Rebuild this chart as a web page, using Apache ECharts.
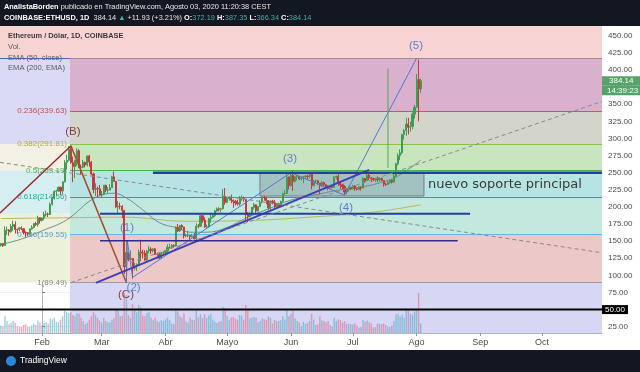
<!DOCTYPE html>
<html>
<head>
<meta charset="utf-8">
<script src="https://cdn.jsdelivr.net/npm/echarts@6/dist/echarts.min.js"></script>
<style>
  html, body { margin: 0; padding: 0; background: #fff; }
  #chart { width: 640px; height: 372px; }
</style>
</head>
<body>
<div id="chart"></div>
<script>
// ---- datos (ETH/USD Coinbase, velas diarias 12 ene - 3 ago 2020) ----
// eje x = dias desde el 1 feb 2020
const firstDay = -20;
const firstOpen = 143.6;
const closes = [
  146.5,143.6,165.9,166.3,163.8,171.4,174.2,167.0,166.9,169.4,168.0,162.6,162.2,160.4,167.9,170.1,175.6,174.3,184.0,180.0,
  183.6,188.8,189.6,188.9,204.0,212.3,222.7,223.1,228.7,223.1,236.5,265.0,268.0,284.2,264.7,258.9,267.8,282.0,258.5,258.0,265.0,261.3,274.5,265.5,248.2,225.5,227.0,226.3,217.5,
  218.6,231.5,224.3,224.6,228.0,244.0,237.2,200.0,201.0,200.8,194.9,112.3,133.2,123.3,124.6,110.6,113.9,115.7,134.0,132.6,132.5,122.7,135.5,138.5,136.0,138.8,130.8,131.3,125.0,132.5,133.4,
  135.5,141.1,141.3,143.9,142.7,170.3,164.8,173.0,170.5,157.5,158.1,158.4,156.8,157.6,153.3,171.7,171.6,187.1,180.5,170.9,170.9,182.7,184.7,187.5,194.1,197.3,196.4,197.2,215.5,206.5,
  212.5,213.2,209.8,208.2,206.0,204.4,212.1,212.4,211.3,188.8,186.0,190.2,199.4,203.0,194.1,200.4,207.0,214.5,213.8,209.3,198.6,208.4,206.2,200.3,204.4,200.8,208.0,219.6,219.7,243.8,231.0,
  246.2,237.2,244.0,244.4,241.2,241.9,244.1,245.0,244.3,247.3,231.2,237.8,238.1,234.9,230.8,235.7,232.2,229.6,227.5,229.8,228.5,243.4,244.6,235.8,232.4,229.8,221.7,225.4,228.5,226.2,
  230.6,226.5,225.5,229.0,227.5,241.5,238.3,246.3,242.4,241.8,239.4,241.6,239.5,241.7,238.6,233.2,232.7,235.6,238.8,236.2,245.0,262.9,275.0,279.1,305.4,311.3,321.0,316.4,317.6,335.4,345.5,
  386.0,372.19,384.14
];
const highs = [
  146.9,146.6,171.7,171.2,167.4,174.8,180.0,178.9,168.3,169.9,171.5,168.1,164.3,163.0,168.5,173.1,176.0,178.3,187.1,185.0,
  184.9,192.7,194.4,191.7,206.2,214.9,224.0,225.0,229.5,229.5,237.4,268.3,276.0,289.0,289.5,273.5,269.0,285.5,284.3,262.0,268.6,266.2,275.0,276.0,266.8,250.0,234.5,229.5,232.0,
  223.4,232.1,232.6,229.0,233.2,245.5,251.7,237.9,208.5,206.2,202.5,195.7,150.0,133.9,136.5,124.4,118.1,117.4,137.9,152.0,137.3,136.6,136.4,143.1,141.2,139.6,140.0,132.3,132.7,134.0,135.2,
  137.0,145.4,146.0,145.5,145.0,171.6,175.0,173.6,174.4,171.1,160.6,165.0,159.1,160.5,161.7,176.0,175.0,187.7,187.3,184.6,174.2,184.0,190.0,189.6,195.5,199.0,199.2,198.5,226.0,227.5,
  215.0,215.6,218.0,210.8,210.0,210.5,215.9,216.9,215.0,211.4,192.2,192.4,200.0,206.0,203.5,201.3,210.3,215.2,216.0,214.5,210.0,209.6,210.3,210.0,205.7,206.1,209.2,221.0,224.2,247.6,244.0,
  250.0,253.0,245.2,246.7,245.0,244.0,244.9,246.6,247.0,250.5,249.5,239.5,239.8,239.0,232.0,238.0,236.9,233.5,231.5,231.0,231.5,245.0,245.7,247.5,237.0,234.0,231.5,227.0,230.0,229.3,
  232.3,231.5,228.0,230.5,229.2,243.4,242.0,247.9,248.3,243.4,242.3,242.5,244.5,242.5,242.6,238.8,235.0,238.4,240.0,239.7,248.2,264.0,278.0,284.0,307.0,314.0,330.0,330.0,324.2,338.0,349.0,
  394.0,415.0,387.35
];
const lows = [
  142.2,141.4,143.2,159.0,157.8,162.4,165.3,161.2,160.6,164.3,166.2,159.6,155.6,157.6,158.9,166.6,168.9,172.1,171.1,175.8,
  178.8,180.4,186.0,185.2,188.5,201.9,210.6,215.5,222.0,217.5,218.8,235.8,254.4,266.3,263.0,236.3,242.0,259.5,256.6,246.8,256.5,257.7,258.9,259.0,246.3,220.0,215.8,213.5,216.9,
  212.9,217.0,221.5,220.5,224.2,227.8,236.5,198.5,191.0,196.5,183.5,102.0,89.5,120.6,121.9,95.2,107.3,106.5,114.2,120.7,124.9,120.9,119.8,132.4,131.5,133.4,129.8,124.7,124.2,124.0,130.5,
  128.3,133.8,138.9,139.1,140.4,142.2,163.5,163.6,166.4,153.9,155.6,155.8,149.7,155.1,152.5,150.3,168.8,171.0,177.0,169.4,167.5,170.1,176.8,183.2,185.5,192.8,193.5,192.0,196.5,203.0,
  205.4,209.0,205.3,198.7,202.1,202.0,201.5,209.0,207.5,180.0,177.6,184.5,188.0,196.2,191.4,193.0,199.8,205.0,209.2,204.0,195.0,195.5,203.5,198.5,197.3,198.6,199.0,206.0,216.4,219.4,225.5,
  229.5,223.3,235.7,238.3,239.0,238.6,234.7,240.5,239.5,241.8,225.6,229.7,234.7,232.3,218.3,229.0,230.3,228.0,224.1,225.6,227.0,227.7,240.4,230.5,226.5,225.5,217.3,218.6,222.3,224.4,
  225.4,223.5,224.0,224.3,223.9,227.4,236.2,238.0,239.0,236.1,237.7,236.6,236.4,236.5,237.4,229.7,230.6,232.0,233.7,234.2,235.6,243.8,260.5,268.2,277.0,298.5,304.0,306.0,310.0,313.5,329.0,
  345.0,325.0,366.34
];
const volumes = [
  180,170,420,300,220,260,300,250,170,160,150,200,220,160,150,190,230,200,310,260,
  190,250,260,230,360,340,380,280,270,330,420,560,530,500,520,450,420,500,480,380,300,220,260,330,420,520,460,380,310,
  260,380,300,270,260,330,370,600,560,420,430,1000,950,450,380,720,560,520,700,640,430,420,500,520,380,330,380,300,270,320,300,
  340,380,320,240,220,620,540,420,380,480,280,260,380,330,320,600,390,470,370,470,380,440,480,330,280,250,280,300,650,620,
  430,330,390,400,350,330,450,430,330,700,560,370,380,400,380,260,300,360,340,330,420,380,240,320,300,300,320,420,340,560,420,
  480,560,360,300,260,170,280,230,250,300,480,330,200,220,420,320,300,260,300,200,170,380,300,340,320,260,300,230,230,220,
  220,240,180,130,150,330,280,310,270,240,140,150,240,230,220,240,200,160,150,190,300,460,480,410,460,380,620,600,480,460,540,
  560,1000,240
];

// EMA
const ema50Days = [-20,-10,0,12,25,35,41,48,57,66,72,80,90,100,110,121,135,145,157,164,171,179,184];
const ema50Vals = [145,153,165,181,212,220,213,198,177,169,163,163,170,185,197,210,219,225,230,235,242,257,268];
const ema200Days = [-20,10,40,70,100,130,160,184];
const ema200Vals = [183,184,185,179,180,185,192,203];

// eje de tiempo / precio
const monthDays = [0,29,60,90,121,151,182,213,243];
const monthNames = ['Feb','Mar','Abr','Mayo','Jun','Jul','Ago','Sep','Oct'];
const priceTicks = [25,50,75,100,125,150,175,200,225,250,275,300,325,350,375,400,425,450];

// retroceso de Fibonacci
const fibRatios = ['0','0.236','0.382','0.5','0.618','0.786','1'];
const fibPrices = [416.89,339.63,291.81,253.19,214.56,159.55,89.49];
const fibLineColors = ['#9a8a96','#d9534f','#8bc34a','#4caf50','#26a69a','#64b5f6','#9e9e9e'];
const fibLabelColors = ['#888','#c0504d','#b3ad3c','#4caf50','#26a69a','#5a9bd4','#8a8a8a'];

const X_MIN = -20.41, X_MAX = 272.1;
const Y_MIN = 15.8, Y_MAX = 464.2;
const FIB_X = 13.6;
const FONT = '"Liberation Sans", Arial, sans-serif';
const UP = '#3f9d52', DOWN = '#d0343c';

const candles = closes.map((c, i) => [firstDay + i, i === 0 ? firstOpen : closes[i - 1], c, lows[i], highs[i]]);
const vols = volumes.map((v, i) => ({
  value: [firstDay + i, v],
  itemStyle: { color: candles[i][2] >= candles[i][1] ? 'rgba(70,170,195,0.55)' : 'rgba(235,85,115,0.5)' }
}));

// bandas de fondo
function band(x1, x2, p1, p2, color) {
  return [{ coord: [x1, p1], itemStyle: { color: color } }, { coord: [x2, p2] }];
}
const bands = [
  band(X_MIN, X_MAX, fibPrices[0], Y_MAX, '#f7d3d3'),
  band(FIB_X, X_MAX, fibPrices[1], fibPrices[0], '#d9b1cf'),
  band(FIB_X, X_MAX, fibPrices[2], fibPrices[1], '#d3d4ca'),
  band(FIB_X, X_MAX, fibPrices[3], fibPrices[2], '#c9e5bd'),
  band(FIB_X, X_MAX, fibPrices[4], fibPrices[3], '#b6e4e4'),
  band(FIB_X, X_MAX, fibPrices[5], fibPrices[4], '#c3e8de'),
  band(FIB_X, X_MAX, fibPrices[6], fibPrices[5], '#ecc9c8'),
  band(FIB_X, X_MAX, Y_MIN, fibPrices[6], '#d6d6f5'),
  // zona izquierda (otro retroceso)
  band(X_MIN, FIB_X, fibPrices[2], fibPrices[0], '#dadaf6'),
  band(X_MIN, FIB_X, fibPrices[3], fibPrices[2], '#f3f1e5'),
  band(X_MIN, FIB_X, 190, fibPrices[3], '#d5eef2'),
  band(X_MIN, FIB_X, fibPrices[6], 190, '#ecf2da')
];

const fibLines = fibPrices.map((p, i) => [
  {
    coord: [FIB_X, p],
    lineStyle: { color: fibLineColors[i], width: 1, type: 'solid' },
    label: {
      show: i > 0, position: 'start', distance: 3,
      formatter: fibRatios[i] + '(' + p.toFixed(2) + ')',
      color: fibLabelColors[i], fontSize: 8, fontFamily: FONT
    }
  },
  { coord: [X_MAX, p] }
]);
fibLines.push([{ coord: [X_MIN, fibPrices[0]], lineStyle: { color: '#4a63c8', width: 1, type: 'solid' }, label: { show: false } }, { coord: [FIB_X, fibPrices[0]] }]);

// dibujos (lineas de tendencia, ondas)
function draw(points, color, width, dashed) {
  return {
    type: 'line', xAxisIndex: 0, yAxisIndex: 0, data: points, symbol: 'none', silent: true, z: 6,
    lineStyle: { color: color, width: width, type: dashed ? [4, 3] : 'solid' }
  };
}
const drawings = [
  draw([[X_MIN, 191], [14, 289]], '#9c2a2a', 1.5),
  draw([[14, 289.5], [41, 89.5]], '#9a5032', 1.5),
  draw([[41, 89.5], [41.5, 150], [44, 97], [121, 250], [147, 217], [182, 417]], '#4f78d6', 1),
  draw([[26.2, 89], [159, 254]], '#3f3fb8', 2),
  draw([[53.9, 250], [X_MAX, 250]], '#24409a', 2.5),
  draw([[28.2, 190], [208, 190]], '#24409a', 2),
  draw([[28.2, 150.5], [202, 150.5]], '#2c2c90', 1.5),
  draw([[X_MIN, 265], [X_MAX, 133]], '#8a8a8a', 1, true),
  draw([[FIB_X + 0.5, 89.49], [X_MAX, 354]], '#8a8a8a', 1, true),
  draw([[168.1, 402], [168.1, 257]], '#4caf50', 1),
  draw([[X_MIN, 50], [X_MAX, 50]], '#000000', 2)
];

const waveLabels = [
  ['(B)', 15, 309, '#8e3b3b'],
  ['(C)', 40.8, 71, '#8e3b3b'],
  ['(1)', 41.3, 169, '#5d7fd1'],
  ['(2)', 44.5, 82, '#5d7fd1'],
  ['(3)', 120.5, 270, '#5d7fd1'],
  ['(4)', 147.7, 198, '#5d7fd1'],
  ['(5)', 181.7, 435, '#5d7fd1']
];

const chart = echarts.init(document.getElementById('chart'));

chart.setOption({
  animation: false,
  backgroundColor: '#ffffff',
  grid: [
    { left: 0, right: 38, top: 26, bottom: 39 },
    { left: 0, right: 38, top: 290, bottom: 39 }
  ],
  xAxis: [
    {
      type: 'value', gridIndex: 0, min: X_MIN, max: X_MAX,
      axisLine: { show: false }, axisLabel: { show: false },
      axisTick: { show: false, customValues: monthDays },
      splitLine: { show: true, lineStyle: { color: 'rgba(42,46,57,0.07)' } }
    },
    {
      type: 'value', gridIndex: 1, min: X_MIN, max: X_MAX,
      axisLine: { show: true, lineStyle: { color: '#b2b5be' } },
      axisTick: { show: true, customValues: monthDays, length: 3, lineStyle: { color: '#9598a1' } },
      axisLabel: {
        customValues: monthDays, color: '#4a4a4a', fontSize: 9, fontFamily: FONT, margin: 5,
        formatter: v => monthNames[monthDays.indexOf(v)] || ''
      },
      splitLine: { show: false }
    }
  ],
  yAxis: [
    {
      type: 'value', gridIndex: 0, position: 'right', min: Y_MIN, max: Y_MAX,
      axisLine: { show: true, lineStyle: { color: '#b2b5be' } },
      axisTick: { show: true, customValues: priceTicks, length: 3, lineStyle: { color: '#787b86' } },
      axisLabel: {
        customValues: priceTicks, color: '#4a4a4a', fontSize: 8, fontFamily: FONT, margin: 6,
        formatter: v => v.toFixed(2)
      },
      splitLine: { show: true, lineStyle: { color: 'rgba(42,46,57,0.07)' } }
    },
    { type: 'value', gridIndex: 1, min: 0, max: 1075, show: false }
  ],
  series: [
    {
      type: 'line', xAxisIndex: 0, yAxisIndex: 0, data: [], z: 1, silent: true,
      markArea: { silent: true, data: bands }
    },
    {
      type: 'line', xAxisIndex: 0, yAxisIndex: 0, data: [], z: 2, silent: true,
      markLine: { silent: true, symbol: ['none', 'none'], data: fibLines }
    },
    {
      type: 'bar', xAxisIndex: 1, yAxisIndex: 1, data: vols, barWidth: 1.4, z: 3, silent: true
    },
    {
      type: 'line', xAxisIndex: 0, yAxisIndex: 0, data: [], z: 3, silent: true,
      markArea: {
        silent: true,
        data: [[{ coord: [105.9, 250], itemStyle: { color: 'rgba(120,120,120,0.32)', borderColor: '#7d7d7d', borderWidth: 1 } }, { coord: [185.6, 215.9] }]]
      }
    },
    {
      type: 'line', xAxisIndex: 0, yAxisIndex: 0, z: 4, silent: true, symbol: 'none', smooth: 0.4,
      data: ema200Days.map((d, i) => [d, ema200Vals[i]]),
      lineStyle: { color: '#bdb45c', width: 1 }
    },
    {
      type: 'line', xAxisIndex: 0, yAxisIndex: 0, z: 4, silent: true, symbol: 'none', smooth: 0.4,
      data: ema50Days.map((d, i) => [d, ema50Vals[i]]),
      lineStyle: { color: '#6a8f98', width: 1 }
    },
    {
      type: 'candlestick', xAxisIndex: 0, yAxisIndex: 0, z: 5, silent: true,
      encode: { x: 0, y: [1, 2, 3, 4] },
      data: candles, barWidth: 1.6,
      itemStyle: { color: UP, color0: DOWN, borderColor: UP, borderColor0: DOWN, borderWidth: 1 }
    }
  ].concat(drawings)
});

// ---- textos y cajas encima ----
const px = (d, p) => chart.convertToPixel({ gridIndex: 0 }, [d, p]);
const graphics = [];

function txt(x, y, text, font, fill, align, extra) {
  graphics.push({
    type: 'text', x: x, y: y, z: 100,
    style: Object.assign({ text: text, font: font, fill: fill, align: align || 'left', verticalAlign: 'middle' }, extra || {})
  });
}

// cabecera
graphics.push({ type: 'rect', z: 90, shape: { x: 0, y: 0, width: 640, height: 26 }, style: { fill: '#131722' } });
txt(4, 7, '{b|AnalistaBorden} publicado en TradingView.com, Agosto 03, 2020 11:20:38 CEST', '7.4px ' + FONT, '#e6e6e6', 'left', {
  rich: { b: { fontWeight: 'bold', fill: '#ffffff', fontSize: 7.4, fontFamily: FONT } }
});
txt(4, 17.5, '{b|COINBASE:ETHUSD, 1D}  384.14 {g|▲} +11.93 (+3.21%) {b|O:}{g|372.19} {b|H:}{g|387.35} {b|L:}{g|366.34} {b|C:}{g|384.14}', '7.4px ' + FONT, '#e6e6e6', 'left', {
  rich: {
    b: { fontWeight: 'bold', fill: '#ffffff', fontSize: 7.4, fontFamily: FONT },
    g: { fill: '#3fb39f', fontSize: 7.4, fontFamily: FONT }
  }
});

// pie
graphics.push({ type: 'rect', z: 90, shape: { x: 0, y: 350, width: 640, height: 22 }, style: { fill: '#131722' } });
graphics.push({ type: 'circle', z: 95, shape: { cx: 11, cy: 361, r: 5 }, style: { fill: '#2b87d9' } });
txt(20, 361, 'TradingView', '8.5px ' + FONT, '#ffffff');

// leyenda del grafico
txt(8, 36, 'Ethereum / Dólar, 1D, COINBASE', 'bold 7.4px ' + FONT, '#3a3a3a');
txt(8, 47, 'Vol.', '7.6px ' + FONT, '#5a5a5a');
txt(8, 58, 'EMA (50, close)', '7.6px ' + FONT, '#5a5a5a');
txt(8, 68, 'EMA (200, EMA)', '7.6px ' + FONT, '#5a5a5a');

// etiquetas de ondas
waveLabels.forEach(w => {
  const p = px(w[1], w[2]);
  txt(p[0], p[1], w[0], '11.5px ' + FONT, w[3], 'center');
});

// texto del soporte
const sp = px(187.6, 232);
txt(sp[0], sp[1], 'nuevo soporte principal', '13px "DejaVu Sans", sans-serif', '#3a3a3a');

// cajas del eje de precios
const yLast = px(X_MAX, 384.14)[1];
graphics.push({ type: 'rect', z: 95, shape: { x: 602, y: yLast - 4.5, width: 38, height: 9.5 }, style: { fill: '#56a369' } });
graphics.push({ type: 'rect', z: 95, shape: { x: 602, y: yLast + 5, width: 38, height: 9.5 }, style: { fill: '#56a369' } });
txt(609, yLast, '384.14', '8px ' + FONT, '#ffffff');
txt(607, yLast + 9.8, '14:39:23', '8px ' + FONT, '#ffffff');
const y50 = px(X_MAX, 50)[1];
graphics.push({ type: 'rect', z: 95, shape: { x: 602, y: y50 - 4.5, width: 26, height: 9 }, style: { fill: '#000000' } });
txt(605, y50, '50.00', '8px ' + FONT, '#ffffff');

chart.setOption({ graphic: graphics });
</script>
</body>
</html>
